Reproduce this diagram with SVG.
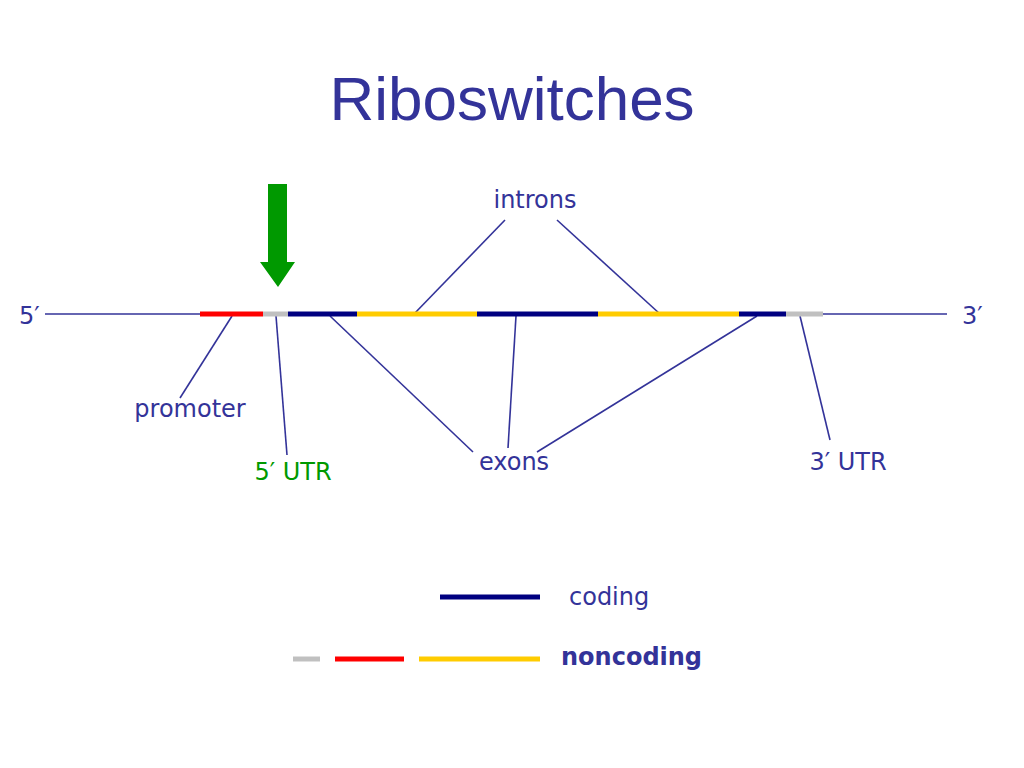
<svg xmlns="http://www.w3.org/2000/svg" width="1024" height="768" viewBox="0 0 1024 768">
<style>
.t{font-family:"DejaVu Sans",Verdana,sans-serif;font-size:24px;fill:#333399}
.c{stroke:#333399;stroke-width:1.6;fill:none}
.seg{stroke-width:5;fill:none}
</style>
<rect width="1024" height="768" fill="#fff"/>
<text x="512" y="120" text-anchor="middle" style="font-family:'Liberation Sans',Arial,sans-serif;font-size:62px;fill:#333399">Riboswitches</text>
<g id="connectors">
<line class="c" x1="45" y1="314" x2="200" y2="314"/>
<line class="c" x1="823" y1="314" x2="947" y2="314"/>
<line class="c" x1="505" y1="220" x2="414" y2="314"/>
<line class="c" x1="557" y1="220" x2="660" y2="314"/>
<line class="c" x1="232" y1="316" x2="180" y2="398"/>
<line class="c" x1="276" y1="316" x2="287" y2="455"/>
<line class="c" x1="330" y1="316" x2="473" y2="452"/>
<line class="c" x1="516" y1="316" x2="508" y2="448"/>
<line class="c" x1="757" y1="316" x2="537" y2="452"/>
<line class="c" x1="800" y1="316" x2="830" y2="440"/>
</g>
<g id="gene">
<line class="seg" stroke="#ff0000" x1="200" y1="314" x2="263" y2="314"/>
<line class="seg" stroke="#c0c0c0" x1="263" y1="314" x2="288" y2="314"/>
<line class="seg" stroke="#000080" x1="288" y1="314" x2="357" y2="314"/>
<line class="seg" stroke="#ffcc00" x1="357" y1="314" x2="477" y2="314"/>
<line class="seg" stroke="#000080" x1="477" y1="314" x2="598" y2="314"/>
<line class="seg" stroke="#ffcc00" x1="598" y1="314" x2="739" y2="314"/>
<line class="seg" stroke="#000080" x1="739" y1="314" x2="786" y2="314"/>
<line class="seg" stroke="#c0c0c0" x1="786" y1="314" x2="823" y2="314"/>
</g>
<g id="arrow">
<polygon fill="#009900" points="268,184 287,184 287,262 295,262 278,287 260,262 268,262"/>
</g>
<g id="labels">
<text class="t" x="19" y="324">5′</text>
<text class="t" x="962" y="324">3′</text>
<text class="t" x="535" y="208" text-anchor="middle">introns</text>
<text class="t" x="190" y="417" text-anchor="middle">promoter</text>
<text class="t" x="293" y="480" text-anchor="middle" style="fill:#009900">5′ UTR</text>
<text class="t" x="514" y="470" text-anchor="middle">exons</text>
<text class="t" x="848" y="470" text-anchor="middle">3′ UTR</text>
</g>
<g id="legend">
<line class="seg" stroke="#000080" x1="440" y1="597" x2="540" y2="597"/>
<line class="seg" stroke="#c0c0c0" x1="293" y1="659" x2="320" y2="659"/>
<line class="seg" stroke="#ff0000" x1="335" y1="659" x2="404" y2="659"/>
<line class="seg" stroke="#ffcc00" x1="419" y1="659" x2="540" y2="659"/>
<text class="t" x="569" y="605">coding</text>
<text class="t" x="561" y="665" style="font-weight:bold">noncoding</text>
</g>
</svg>
